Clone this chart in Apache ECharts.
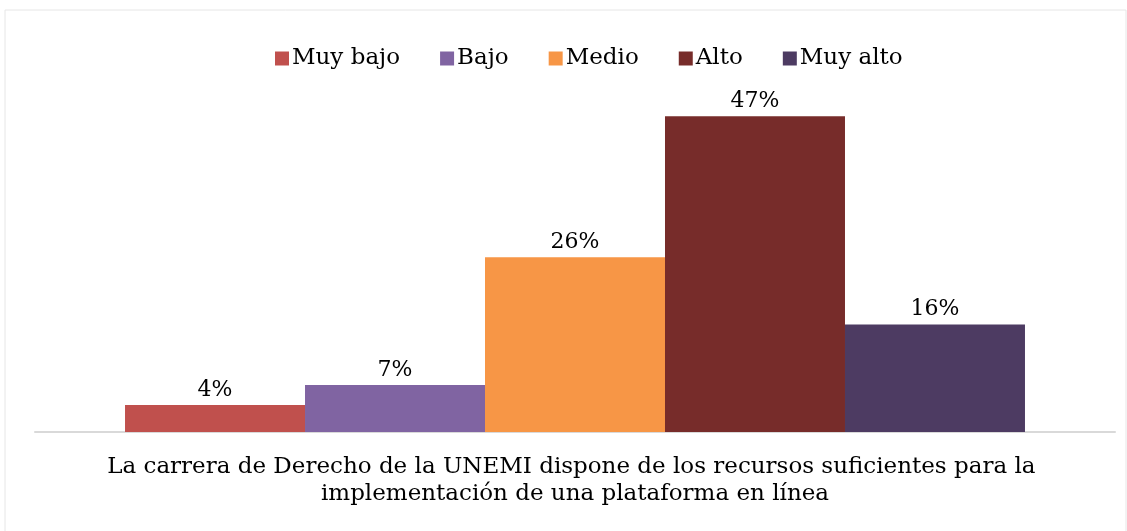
<!DOCTYPE html>
<html>
<head>
<meta charset="utf-8">
<script src="https://cdn.jsdelivr.net/npm/echarts@6/dist/echarts.min.js"></script>
<style>
  html, body { margin: 0; padding: 0; background: #fff; }
  #main { width: 1127px; height: 531px; }
</style>
</head>
<body>
<div id="main"></div>
<script>
var categories = ['La carrera de Derecho de la UNEMI dispone de los recursos suficientes para la implementación de una plataforma en línea'];
var seriesNames = ['Muy bajo', 'Bajo', 'Medio', 'Alto', 'Muy alto'];
var seriesValues = [[4], [7], [26], [47], [16]];
var colors = ['#C0504D', '#8064A2', '#F79646', '#772C2A', '#4D3B62'];

var chartDom = document.getElementById('main');
var myChart = echarts.init(chartDom);
var option;

var font = '"DejaVu Serif", "Liberation Serif", serif';

option = {
  backgroundColor: '#fff',
  textStyle: { fontFamily: font },
  graphic: [
    {
      type: 'rect',
      shape: { x: 5, y: 10, width: 1121, height: 530 },
      style: { fill: 'none', stroke: '#E6E6E6', lineWidth: 1 },
      silent: true
    }
  ],
  legend: {
    data: seriesNames,
    top: 42,
    left: 270,
    itemWidth: 14,
    itemHeight: 14,
    itemGap: 40,
    icon: 'rect',
    textStyle: { fontFamily: font, fontSize: 23, color: '#000', padding: [0, 0, 0, -2] }
  },
  grid: {
    left: 35,
    right: 12,
    top: 96,
    bottom: 99,
    containLabel: false
  },
  xAxis: {
    type: 'category',
    data: categories,
    axisLine: { lineStyle: { color: '#D9D9D9', width: 2 } },
    axisTick: { show: false },
    axisLabel: {
      color: '#000',
      fontFamily: font,
      fontSize: 23,
      lineHeight: 27,
      margin: 22,
      width: 1000,
      overflow: 'break'
    }
  },
  yAxis: {
    type: 'value',
    min: 0,
    max: 50,
    show: false,
    splitLine: { show: false }
  },
  series: seriesNames.map(function (name, i) {
    return {
      name: name,
      type: 'bar',
      data: seriesValues[i],
      barGap: 0,
      barCategoryGap: '16.67%',
      itemStyle: { color: colors[i] },
      label: {
        show: true,
        position: 'top',
        distance: 4,
        formatter: '{c}%',
        color: '#000',
        fontFamily: font,
        fontSize: 22
      }
    };
  })
};

option && myChart.setOption(option);
</script>
</body>
</html>
